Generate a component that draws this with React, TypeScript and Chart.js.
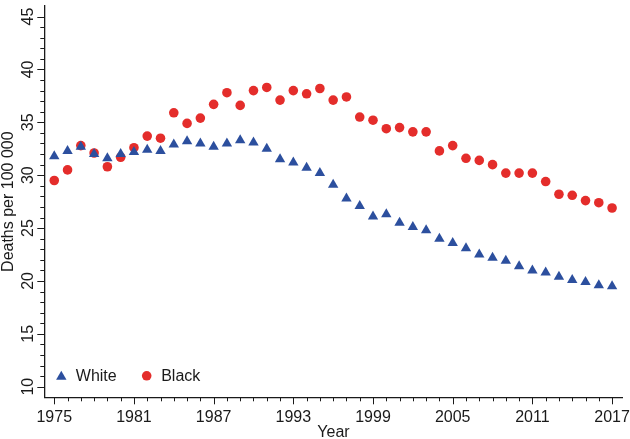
import React, { useEffect, useRef } from 'react';
import { Chart, registerables } from 'chart.js';

Chart.register(...registerables);

const years = [
  1975, 1976, 1977, 1978, 1979, 1980, 1981, 1982, 1983, 1984, 1985, 1986, 1987, 1988, 1989,
  1990, 1991, 1992, 1993, 1994, 1995, 1996, 1997, 1998, 1999, 2000, 2001, 2002, 2003, 2004,
  2005, 2006, 2007, 2008, 2009, 2010, 2011, 2012, 2013, 2014, 2015, 2016, 2017,
];

const whiteRates = [
  31.8, 32.3, 32.7, 32.0, 31.6, 32.0, 32.2, 32.4, 32.3, 32.9, 33.2, 33.0, 32.7, 33.0, 33.3,
  33.1, 32.5, 31.5, 31.2, 30.7, 30.2, 29.1, 27.8, 27.1, 26.1, 26.3, 25.5, 25.1, 24.8, 24.0,
  23.6, 23.1, 22.5, 22.2, 21.9, 21.4, 21.0, 20.8, 20.4, 20.1, 19.9, 19.6, 19.5,
];

const blackRates = [
  29.5, 30.5, 32.8, 32.1, 30.8, 31.7, 32.6, 33.7, 33.5, 35.9, 34.9, 35.4, 36.7, 37.8, 36.6,
  38.0, 38.3, 37.1, 38.0, 37.7, 38.2, 37.1, 37.4, 35.5, 35.2, 34.4, 34.5, 34.1, 34.1, 32.3,
  32.8, 31.6, 31.4, 31.0, 30.2, 30.2, 30.2, 29.4, 28.2, 28.1, 27.6, 27.4, 26.9,
];

const xTickYears = [1975, 1981, 1987, 1993, 1999, 2005, 2011, 2017];
const yTickValues = [10, 15, 20, 25, 30, 35, 40, 45];
const seriesLabels = ['White', 'Black'];

const BLUE = '#2c4f9e';
const RED = '#e42d2b';
const INK = '#1a1a1a';
const FONT = "'Liberation Sans', Arial, Helvetica, sans-serif";

const tickPlugin = {
  id: 'minorMajorTicks',
  afterDraw(chart: any) {
    const ctx = chart.ctx;
    const xs = chart.scales.x;
    const ys = chart.scales.y;
    const area = chart.chartArea;
    ctx.save();
    ctx.strokeStyle = INK;
    ctx.lineWidth = 1;
    for (let v = yTickValues[0]; v <= yTickValues[yTickValues.length - 1]; v++) {
      const py = Math.round(ys.getPixelForValue(v)) + 0.5;
      const len = v % 5 === 0 ? 7 : 4;
      ctx.beginPath();
      ctx.moveTo(area.left, py);
      ctx.lineTo(area.left - len, py);
      ctx.stroke();
    }
    for (let yr = years[0]; yr <= years[years.length - 1]; yr++) {
      const px = Math.round(xs.getPixelForValue(yr)) + 0.5;
      const len = xTickYears.includes(yr) ? 7 : 4;
      ctx.beginPath();
      ctx.moveTo(px, area.bottom);
      ctx.lineTo(px, area.bottom + len);
      ctx.stroke();
    }
    ctx.restore();
  },
};

const legendPlugin = {
  id: 'insideLegend',
  afterDraw(chart: any) {
    const ctx = chart.ctx;
    const area = chart.chartArea;
    const cy = area.bottom - 21.5;
    ctx.save();
    ctx.font = `16px ${FONT}`;
    ctx.textBaseline = 'middle';
    ctx.textAlign = 'left';
    let x = area.left + 17;
    chart.data.datasets.forEach((ds: any) => {
      ctx.fillStyle = ds.backgroundColor;
      ctx.beginPath();
      if (ds.pointStyle === 'triangle') {
        const r = 6;
        ctx.moveTo(x, cy - r + 1);
        ctx.lineTo(x + r * 0.866, cy + r * 0.5 + 1);
        ctx.lineTo(x - r * 0.866, cy + r * 0.5 + 1);
        ctx.closePath();
      } else {
        ctx.arc(x, cy, 4.8, 0, Math.PI * 2);
      }
      ctx.fill();
      ctx.fillStyle = INK;
      const tx = x + 14.5;
      ctx.fillText(ds.label, tx, cy + 1);
      x = tx + ctx.measureText(ds.label).width + 30;
    });
    ctx.restore();
  },
};

export default function App() {
  const canvasRef = useRef<HTMLCanvasElement | null>(null);

  useEffect(() => {
    const canvas = canvasRef.current;
    if (!canvas) return;
    Chart.defaults.font.family = FONT;
    Chart.defaults.color = INK;

    const chart = new Chart(canvas, {
      type: 'scatter',
      data: {
        datasets: [
          {
            label: seriesLabels[0],
            data: years.map((yr, i) => ({ x: yr, y: whiteRates[i] })),
            pointStyle: 'triangle',
            pointRadius: 6,
            backgroundColor: BLUE,
            borderColor: BLUE,
            borderWidth: 0,
          },
          {
            label: seriesLabels[1],
            data: years.map((yr, i) => ({ x: yr, y: blackRates[i] })),
            pointStyle: 'circle',
            pointRadius: 4.8,
            backgroundColor: RED,
            borderColor: RED,
            borderWidth: 0,
          },
        ],
      },
      options: {
        responsive: false,
        animation: false,
        layout: { padding: { top: 0, right: 7.3, bottom: 0, left: 0 } },
        plugins: {
          legend: { display: false },
          tooltip: { enabled: false },
        },
        scales: {
          x: {
            type: 'linear',
            min: 1974.25,
            max: 2017.8,
            grid: { display: false, drawTicks: false },
            border: { display: true, color: INK, width: 1.3 },
            afterBuildTicks: (s: any) => {
              s.ticks = xTickYears.map((v) => ({ value: v }));
            },
            afterFit: (s: any) => {
              s.height = 41.7;
              s.paddingLeft = 0;
              s.paddingRight = 0;
            },
            ticks: {
              autoSkip: false,
              maxRotation: 0,
              minRotation: 0,
              padding: 11,
              color: INK,
              font: { size: 16, family: FONT },
              callback: (v: any) => String(v),
            },
            title: {
              display: true,
              text: 'Year',
              color: INK,
              font: { size: 16, family: FONT },
              padding: { top: 0, bottom: -3 },
            },
          },
          y: {
            type: 'linear',
            min: 9,
            max: 46,
            grid: { display: false, drawTicks: false },
            border: { display: true, color: INK, width: 1.3 },
            afterBuildTicks: (s: any) => {
              s.ticks = yTickValues.map((v) => ({ value: v }));
            },
            afterFit: (s: any) => {
              s.width = 44.3;
              s.paddingTop = 0;
              s.paddingBottom = 0;
            },
            ticks: {
              minRotation: 90,
              maxRotation: 90,
              crossAlign: 'center',
              padding: 7,
              color: INK,
              font: { size: 16, family: FONT },
              callback: (v: any) => String(v),
            },
            title: {
              display: true,
              text: 'Deaths per 100 000',
              color: INK,
              font: { size: 16, family: FONT },
              padding: { top: -1, bottom: 0 },
            },
          },
        },
      },
      plugins: [tickPlugin, legendPlugin],
    });

    return () => chart.destroy();
  }, []);

  return (
    <div style={{ position: 'fixed', left: 0, top: 0, width: 630, height: 439, background: '#fff' }}>
      <canvas ref={canvasRef} width={630} height={439} style={{ display: 'block' }} />
    </div>
  );
}
